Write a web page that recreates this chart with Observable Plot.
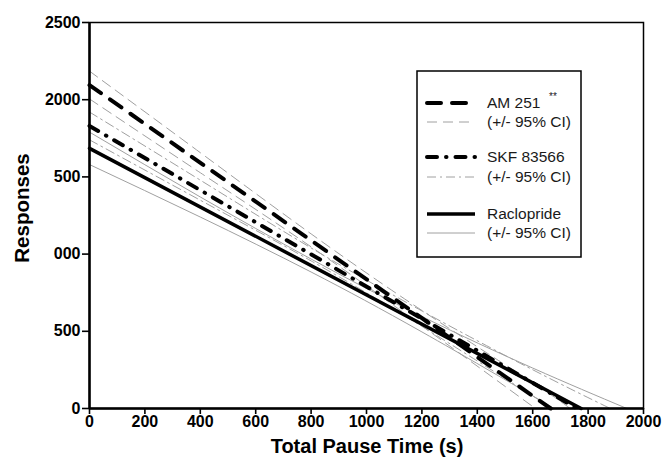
<!DOCTYPE html>
<html>
<head>
<meta charset="utf-8">
<script src="https://cdn.jsdelivr.net/npm/d3@7"></script>
<script src="https://cdn.jsdelivr.net/npm/@observablehq/plot@0.6"></script>
<style>
  html, body { margin: 0; padding: 0; background: #fff; }
  svg { display: block; }
</style>
</head>
<body>
<div id="chart"></div>
<script>
// ---- tick values / labels ----
const xTicks = [0, 200, 400, 600, 800, 1000, 1200, 1400, 1600, 1800, 2000];
const yTicks = [0, 500, 1000, 1500, 2000, 2500];
const yTickLabels = ["0", "500", "000", "500", "2000", "2500"];

// ---- regression lines (Total Pause Time, Responses) ----
const am251T = [0, 1665];
const am251V = [2095, 0];
const skfT = [0, 1760];
const skfV = [1830, 0];
const raclT = [0, 1775];
const raclV = [1685, 0];

// ---- 95% CI curves ----
const am251UpT = [0, 400, 800, 1200, 1600, 1735];
const am251UpV = [2185, 1657, 1131, 635, 167, 0];
const am251LoT = [0, 400, 800, 1200, 1610];
const am251LoV = [2005, 1527, 1047, 535, 0];

const skfUpT = [0, 400, 800, 1200, 1600, 1880];
const skfUpV = [1920, 1479, 1040, 632, 251, 0];
const skfLoT = [0, 400, 800, 1200, 1600, 1675];
const skfLoV = [1740, 1349, 956, 532, 81, 0];

const raclUpT = [0, 400, 800, 1200, 1600, 1940];
const raclUpV = [1790, 1370, 968, 596, 262, 0];
const raclLoT = [0, 400, 800, 1200, 1600, 1675];
const raclLoV = [1580, 1240, 884, 496, 82, 0];

const legendLabels = ["AM 251", "(+/- 95% CI)", "SKF 83566", "(+/- 95% CI)", "Raclopride", "(+/- 95% CI)"];

const pts = (t, v) => t.map((d, i) => ({t: d, v: v[i]}));
const GRAY = "#a0a0a0";
const FONT = "'Liberation Sans', Arial, Helvetica, sans-serif";

const styles = {
  am: {stroke: "black", strokeWidth: 4, strokeDasharray: "14,11", strokeLinecap: "round"},
  amCI: {stroke: GRAY, strokeWidth: 1, strokeDasharray: "10,6"},
  skf: {stroke: "black", strokeWidth: 4, strokeDasharray: "10,9,0.5,9", strokeLinecap: "round"},
  skfCI: {stroke: GRAY, strokeWidth: 1, strokeDasharray: "9,4,2,4"},
  racl: {stroke: "black", strokeWidth: 3.5},
  raclCI: {stroke: GRAY, strokeWidth: 1}
};

const ciLine = (t, v, s) => Plot.line(pts(t, v), {x: "t", y: "v", curve: "natural", ...s});
const regLine = (t, v, s) => Plot.line(pts(t, v), {x: "t", y: "v", ...s});

const chart = Plot.plot({
  width: 665,
  height: 460,
  marginLeft: 89,
  marginRight: 22,
  marginTop: 22,
  marginBottom: 52,
  style: {fontFamily: FONT, background: "white", color: "black"},
  x: {domain: [0, 2000]},
  y: {domain: [0, 2500]},
  marks: [
    ciLine(raclUpT, raclUpV, styles.raclCI),
    ciLine(raclLoT, raclLoV, styles.raclCI),
    ciLine(skfUpT, skfUpV, styles.skfCI),
    ciLine(skfLoT, skfLoV, styles.skfCI),
    ciLine(am251UpT, am251UpV, styles.amCI),
    ciLine(am251LoT, am251LoV, styles.amCI),
    regLine(raclT, raclV, styles.racl),
    regLine(skfT, skfV, styles.skf),
    regLine(am251T, am251V, styles.am),
    Plot.frame({stroke: "black", strokeWidth: 1.5}),
    Plot.ruleX([0], {stroke: "black", strokeWidth: 2.5}),
    Plot.ruleY([0], {stroke: "black", strokeWidth: 2.5}),
    Plot.axisX({ticks: xTicks, tickSize: 6, tickPadding: 1, strokeWidth: 1.6, fontSize: 16, fontWeight: "bold", tickFormat: d => String(d), label: null}),
    Plot.axisY({ticks: yTicks, tickSize: 7, tickPadding: 2, strokeWidth: 1.6, fontSize: 16, fontWeight: "bold", tickFormat: d => yTickLabels[yTicks.indexOf(d)], label: null})
  ]
});

document.getElementById("chart").appendChild(chart);

// ---- axis titles and legend ----
const svg = d3.select(chart);
svg.append("text")
  .attr("x", 367).attr("y", 453)
  .attr("text-anchor", "middle")
  .attr("font-family", FONT).attr("font-size", 20).attr("font-weight", "bold")
  .attr("fill", "black")
  .text("Total Pause Time (s)");
svg.append("text")
  .attr("transform", "translate(29,208) rotate(-90)")
  .attr("text-anchor", "middle")
  .attr("font-family", FONT).attr("font-size", 20.5).attr("font-weight", "bold")
  .attr("fill", "black")
  .text("Responses");

const lg = svg.append("g");
lg.append("rect")
  .attr("x", 417).attr("y", 71).attr("width", 164).attr("height", 186)
  .attr("fill", "white").attr("stroke", "black").attr("stroke-width", 1.5);
const rowY = [103, 122, 157, 177, 214, 233];
const rowStyle = [styles.am, styles.amCI, styles.skf, styles.skfCI, styles.racl, styles.raclCI];
rowY.forEach((y, i) => {
  const s = rowStyle[i];
  lg.append("line")
    .attr("x1", 427).attr("x2", 475).attr("y1", y).attr("y2", y)
    .attr("stroke", s.stroke).attr("stroke-width", s.strokeWidth)
    .attr("stroke-dasharray", s.strokeDasharray || null)
    .attr("stroke-linecap", s.strokeLinecap || null);
  lg.append("text")
    .attr("x", 487).attr("y", y).attr("dy", "0.35em")
    .attr("text-anchor", "start")
    .attr("font-family", FONT).attr("font-size", 15.5)
    .attr("fill", "#1a1a1a")
    .text(legendLabels[i]);
});
lg.append("text")
  .attr("x", 549).attr("y", 100)
  .attr("text-anchor", "start")
  .attr("font-family", FONT).attr("font-size", 10).attr("fill", "#1a1a1a")
  .text("**");
</script>
</body>
</html>
